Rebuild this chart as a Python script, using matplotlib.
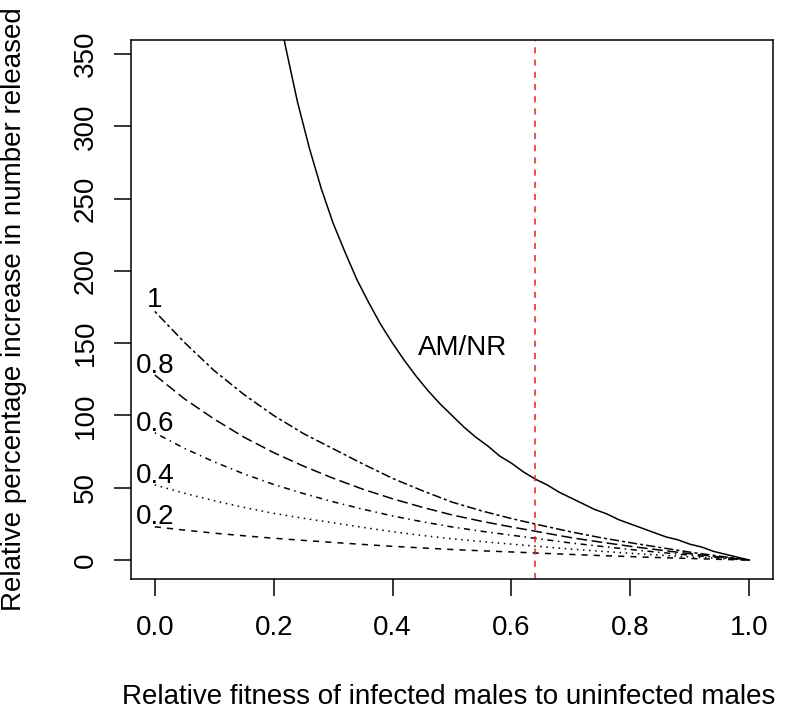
import matplotlib
matplotlib.use("Agg")
import matplotlib.pyplot as plt

plt.rcParams["font.family"] = ["Liberation Sans", "DejaVu Sans"]

# values
x_grid = [0.0, 0.05, 0.1, 0.15, 0.2, 0.25, 0.3, 0.35, 0.4, 0.45, 0.5,
          0.55, 0.6, 0.65, 0.7, 0.75, 0.8, 0.85, 0.9, 0.95, 1.0]
curve_1 = [172, 150.5, 131, 114.5, 100, 87.5, 77, 66.5, 56.5, 48, 40.1,
           34, 28.7, 24, 19.5, 15.5, 12, 8.7, 5.5, 2.7, 0]
curve_08 = [128, 111.5, 97.5, 85, 74.3, 65, 56.6, 49, 42.4, 36.5, 31.2,
            26.8, 22.9, 19.2, 15.5, 12.4, 9.5, 6.9, 4.4, 2.1, 0]
curve_06 = [88, 77.2, 67.9, 59.6, 52.3, 46, 40.3, 35.2, 30.5, 26.5, 22.9,
            19.9, 17.2, 14.5, 11.8, 9.5, 7.3, 5.3, 3.4, 1.6, 0]
curve_04 = [52, 46.2, 41, 36.4, 32.3, 28.9, 25.8, 22.6, 19.6, 17, 14.7,
            12.8, 11.0, 9.3, 7.6, 6.1, 4.7, 3.4, 2.2, 1.1, 0]
curve_02 = [23, 20.7, 18.6, 16.8, 15.1, 13.6, 12.2, 10.8, 9.5, 8.4, 7.3,
            6.4, 5.6, 4.7, 3.9, 3.1, 2.4, 1.7, 1.1, 0.5, 0]

amnr_x = [0.21, 0.22, 0.24, 0.26, 0.28, 0.30, 0.32, 0.34, 0.36, 0.38, 0.40,
          0.42, 0.44, 0.46, 0.48, 0.50, 0.52, 0.54, 0.56, 0.58, 0.60,
          0.62, 0.64, 0.66, 0.68, 0.70, 0.72, 0.74, 0.76, 0.78, 0.80,
          0.82, 0.84, 0.86, 0.88, 0.90, 0.92, 0.94, 0.96, 0.98, 1.00]
amnr_y = [376, 355, 317, 285, 257, 233, 213, 194, 178, 163, 150,
          138, 127, 117, 108, 100, 92, 85, 79, 72, 67,
          61, 56, 52, 47, 43, 39, 35, 32, 28, 25,
          22, 19, 16, 14, 11, 9, 6, 4, 2, 0]

curve_labels = ["1", "0.8", "0.6", "0.4", "0.2"]
label_y = [180, 134, 94, 58, 30]
threshold = 0.64

fig = plt.figure(figsize=(7.89, 7.12), dpi=100)
ax = fig.add_axes([131 / 789, 1 - 579 / 712, 642 / 789, 539 / 712])

lw = 1.1
# R line types: twodash, longdash, dotdash, dotted, dashed
styles = [(0, (2, 2, 6, 2)), (0, (7, 3)), (0, (1, 3, 4, 3)), (0, (1, 3)), (0, (4, 4))]
for ys, ls in zip([curve_1, curve_08, curve_06, curve_04, curve_02], styles):
    ax.plot(x_grid, ys, color="black", lw=lw, linestyle=ls)

ax.plot(amnr_x, amnr_y, color="black", lw=lw)
ax.axvline(threshold, color="#e8211d", lw=lw, linestyle=(0, (4, 4)))

fs = 20
for lab, yy in zip(curve_labels, label_y):
    ax.text(0.0, yy, lab, ha="center", va="center", fontsize=fs)
ax.text(0.517, 147, "AM/NR", ha="center", va="center", fontsize=fs)

ax.set_xlim(-0.04, 1.04)
ax.set_ylim(-13.1, 359.7)
ax.set_xticks([0.0, 0.2, 0.4, 0.6, 0.8, 1.0])
ax.set_xticklabels(["0.0", "0.2", "0.4", "0.6", "0.8", "1.0"])
ax.set_yticks(range(0, 351, 50))
ax.tick_params(direction="out", length=12, width=1.1, labelsize=fs)
ax.tick_params(axis="x", pad=14)
ax.tick_params(axis="y", pad=11, labelrotation=90)
for t in ax.get_yticklabels():
    t.set_va("center")
for s in ax.spines.values():
    s.set_linewidth(1.1)

fig.text(449 / 789, 1 - 697 / 712, "Relative fitness of infected males to uninfected males",
         ha="center", va="center", fontsize=fs)
fig.text(14 / 789, 1 - 309.5 / 712, "Relative percentage increase in number released",
         ha="center", va="center", rotation=90, fontsize=fs)

fig.savefig("out.png", dpi=100)
